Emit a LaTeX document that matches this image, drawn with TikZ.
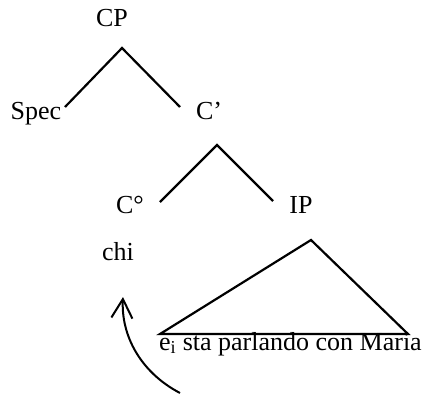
\documentclass[tikz,border=0pt]{standalone}
\usepackage{fontspec}
\setmainfont{Liberation Serif}
\usetikzlibrary{arrows.meta}

\tikzset{
  lbl/.style={anchor=base,inner sep=0pt},
  branch/.style={line width=2.2pt,line join=miter},
}

\begin{document}
\begin{tikzpicture}[x=1pt,y=-1pt,font=\fontsize{26}{30}\selectfont]
\useasboundingbox (0,0) rectangle (424,394);

% labels of the tree
\node[lbl] (cp) at (112,26) {CP};
\node[lbl] (spec) at (36,119) {Spec};
\node[lbl] (cbar) at (209,119) {C’};
\node[lbl] (czero) at (130,213) {C°};
\node[lbl] (ip) at (301,213) {IP};
\node[lbl] (chi) at (118,260) {chi};
\node[lbl,anchor=base west] (phrase) at (159,350) {e\textsubscript{i} sta parlando con Maria};

% branch points
\coordinate (cp-b) at (122,48);
\coordinate (spec-t) at (65,107);
\coordinate (cbar-t) at (180,107);
\coordinate (cbar-b) at (217,145);
\coordinate (czero-t) at (160,202);
\coordinate (ip-t) at (273,201);
\coordinate (ip-b) at (311,240);
\coordinate (tri-l) at (160,334);
\coordinate (tri-r) at (408,334);

\draw[branch] (spec-t) -- (cp-b) -- (cbar-t);
\draw[branch] (czero-t) -- (cbar-b) -- (ip-t);
\draw[branch] (ip-b) -- (tri-r) -- (tri-l) -- cycle;

% movement of the wh-word
\coordinate (trace) at (180,393);
\coordinate (landing) at (123,297);
\draw[line width=2pt,-{Straight Barb[length=19pt,width=21pt]}]
  (trace) .. controls (140,372) and (121,335) .. (landing);

\end{tikzpicture}
\end{document}
